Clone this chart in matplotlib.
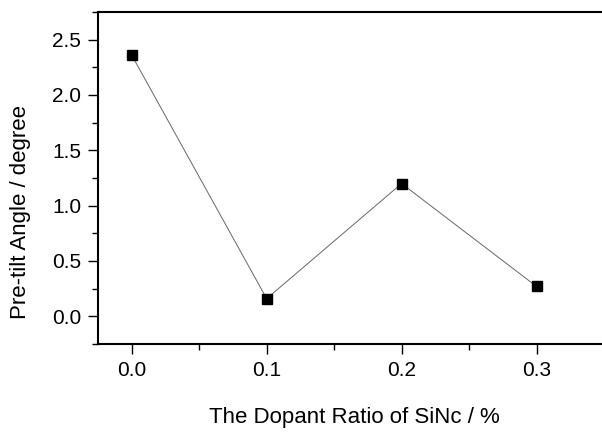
import matplotlib
matplotlib.use("Agg")
import matplotlib.pyplot as plt
from matplotlib.ticker import MultipleLocator, FormatStrFormatter

plt.rcParams['font.family'] = ['Liberation Sans', 'DejaVu Sans']

dopant_ratio = [0.0, 0.1, 0.2, 0.3]
pretilt_angle = [2.36, 0.16, 1.20, 0.27]
x_label = "The Dopant Ratio of SiNc / %"
y_label = "Pre-tilt Angle / degree"

fig = plt.figure(figsize=(6.02, 4.37), dpi=100)
ax = fig.add_axes([98/602, 1-344/437, (604-98)/602, (344-12)/437])

ax.plot(dopant_ratio, pretilt_angle, color='#666666', lw=0.7,
        marker='s', markersize=6.5, markerfacecolor='black',
        markeredgecolor='black', zorder=3)

ax.set_xlim(-0.025, 0.35)
ax.set_ylim(-0.25, 2.75)
ax.xaxis.set_major_locator(MultipleLocator(0.1))
ax.xaxis.set_minor_locator(MultipleLocator(0.05))
ax.yaxis.set_major_locator(MultipleLocator(0.5))
ax.yaxis.set_minor_locator(MultipleLocator(0.25))
ax.xaxis.set_major_formatter(FormatStrFormatter('%.1f'))
ax.yaxis.set_major_formatter(FormatStrFormatter('%.1f'))

for s in ax.spines.values():
    s.set_linewidth(1.5)
ax.spines['right'].set_visible(False)

ax.tick_params(which='major', direction='out', length=7, width=1.0,
               labelsize=15, pad=5)
ax.tick_params(which='minor', direction='out', length=4, width=1.0)
ax.tick_params(top=False, right=False)

fig.text(354/602, 1 - 418/437, x_label, ha='center', va='center', fontsize=16)
fig.text(21/602, 1 - 212/437, y_label, ha='center', va='center',
         rotation=90, fontsize=16)

fig.savefig("out.png", dpi=100)
